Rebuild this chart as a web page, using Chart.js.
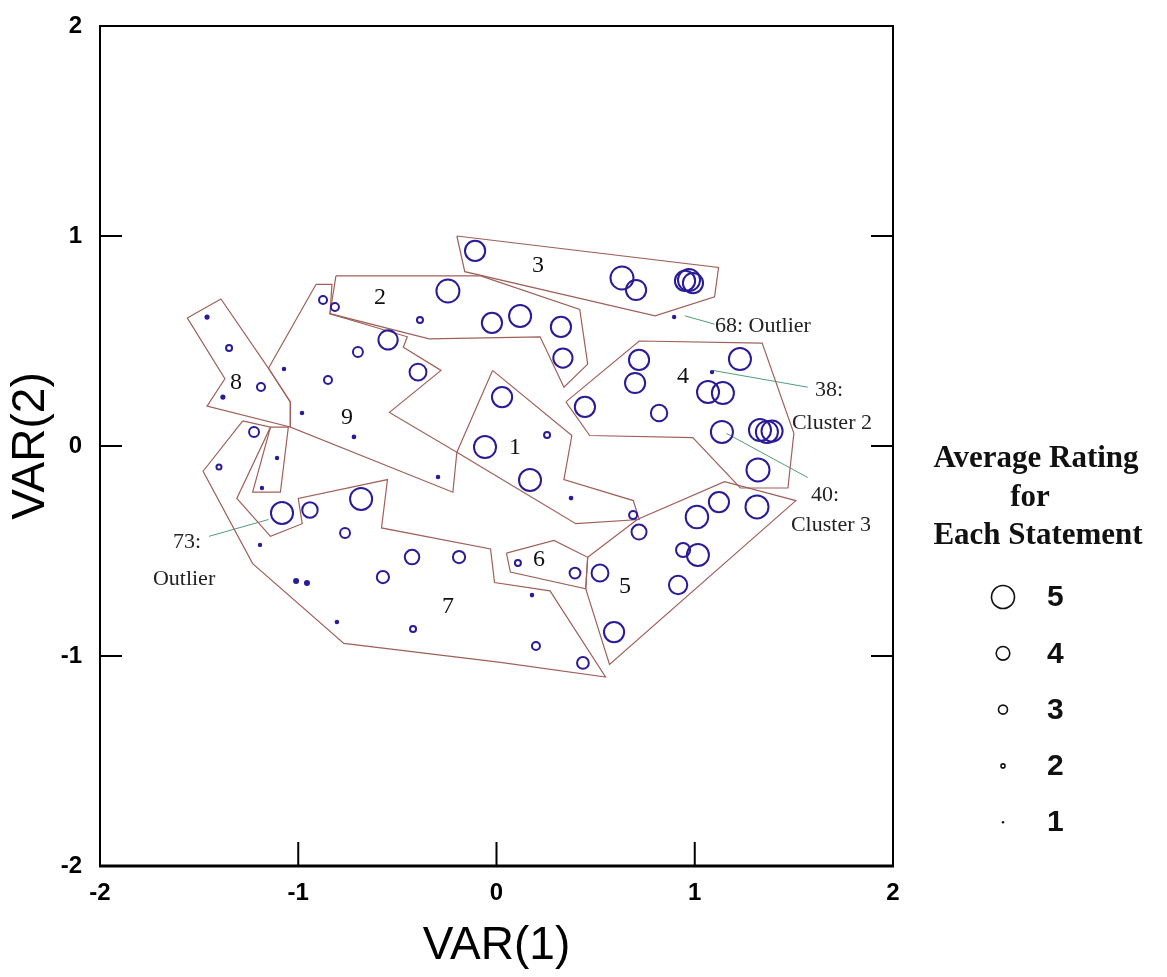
<!DOCTYPE html>
<html>
<head>
<meta charset="utf-8">
<title>Concept map</title>
<script src="https://cdn.jsdelivr.net/npm/chart.js@4.4.0/dist/chart.umd.min.js"></script>
<style>
  html, body { margin: 0; padding: 0; background: #fff; }
</style>
</head>
<body>
<canvas id="map" width="1167" height="977"></canvas>
<script>
// statements: position on VAR(1) / VAR(2) and average rating
const stmtX = [-0.108, 0.633, 0.704, 0.951, 0.971, 0.991, 0.896, -0.245, -0.875, -0.815,
  -0.386, -0.023, 0.119, 0.325, 0.335, -0.547, -0.699, -0.850, -1.072, -0.981,
  -0.719, -0.396, -0.295, -1.460, -1.349, -1.188, -1.380, -1.223, -1.400, -1.107,
  -1.183, -1.082, -0.941, -0.683, -0.764, -0.426, -0.189, -0.573, -1.011, -0.956,
  -0.805, -0.421, -1.193, 0.199, 0.179, 0.436, 0.108, 0.396, 0.522, 0.593,
  0.916, 0.941, 1.016, 1.011, 1.122, 1.314, 0.719, 0.689, 1.319, 0.028,
  -0.058, 0.255, 0.169, 0.376, 0.719, 0.699, 0.446, 0.820, 1.228, 1.067,
  1.142, 1.087, 1.137, 1.329, 1.364, 1.390];
const stmtY = [0.929, 0.800, 0.743, 0.786, 0.790, 0.776, 0.614, 0.738, 0.695, 0.662,
  0.600, 0.586, 0.619, 0.567, 0.419, 0.505, 0.448, 0.314, 0.367, 0.157,
  0.043, 0.352, -0.148, 0.614, 0.467, 0.281, 0.233, 0.067, -0.100, -0.057,
  -0.200, -0.319, -0.305, -0.252, -0.414, -0.529, -0.529, -0.624, -0.643, -0.652,
  -0.838, -0.871, -0.471, -0.952, -0.710, -1.033, -0.557, -0.605, -0.605, -0.886,
  -0.662, -0.495, -0.519, -0.338, -0.267, -0.290, -0.410, -0.329, -0.114, 0.233,
  -0.005, 0.052, -0.162, -0.248, 0.410, 0.300, 0.186, 0.157, 0.414, 0.257,
  0.252, 0.352, 0.067, 0.076, 0.067, 0.071];
const stmtRating = [4.7, 5.0, 4.7, 4.7, 4.9, 4.7, 1.0, 5.0, 2.8, 2.8,
  2.4, 4.7, 4.9, 4.7, 4.6, 4.6, 3.2, 2.8, 1.1, 1.1,
  1.2, 4.35, 1.1, 1.5, 2.4, 2.8, 1.5, 3.2, 2.2, 1.0,
  1.0, 4.9, 4.2, 4.9, 3.2, 4.1, 3.7, 3.7, 2.0, 2.0,
  1.1, 2.4, 1.0, 2.8, 1.1, 3.6, 2.4, 3.4, 4.35, 4.7,
  4.5, 4.05, 4.9, 4.95, 4.7, 5.0, 4.15, 2.8, 5.0, 4.7,
  4.9, 2.4, 4.9, 1.2, 4.7, 4.7, 4.7, 4.3, 4.9, 4.9,
  4.9, 1.0, 4.9, 4.9, 4.9, 4.8];

// cluster boundaries, drawn as closed outlines
const hull1 = [[-0.02, 0.36], [0.38, 0.05], [0.34, -0.16], [0.69, -0.26], [0.72, -0.35], [0.40, -0.37], [-0.20, -0.03]];
const hull2 = [[-0.81, 0.81], [-0.08, 0.81], [0.42, 0.65], [0.46, 0.39], [0.34, 0.28], [0.22, 0.52], [-0.34, 0.51], [-0.84, 0.63]];
const hull3 = [[-0.20, 1.00], [1.12, 0.85], [1.10, 0.71], [0.80, 0.62], [-0.16, 0.83]];
const hull4 = [[0.35, 0.21], [0.72, 0.50], [1.34, 0.49], [1.50, 0.06], [1.47, -0.20], [1.23, -0.20], [0.99, 0.04], [0.47, 0.05]];
const hull5 = [[0.46, -0.53], [0.71, -0.35], [1.15, -0.17], [1.51, -0.26], [0.57, -1.04], [0.45, -0.68]];
const hull6 = [[0.05, -0.51], [0.29, -0.45], [0.46, -0.53], [0.45, -0.68], [0.07, -0.60]];
const hull7 = [[-1.28, 0.12], [-1.14, 0.09], [-1.31, -0.25], [-1.14, -0.43], [-0.98, -0.37], [-1.00, -0.25],
  [-0.55, -0.16], [-0.58, -0.39], [-0.03, -0.49], [-0.01, -0.65], [0.27, -0.69], [0.55, -1.10],
  [0.02, -1.03], [-0.77, -0.94], [-1.23, -0.56], [-1.48, -0.12]];
const hull7b = [[-1.14, 0.09], [-1.23, -0.22], [-1.09, -0.22], [-1.05, 0.09]];
const hull8 = [[-1.56, 0.61], [-1.39, 0.70], [-1.15, 0.37], [-1.04, 0.21], [-1.04, 0.09], [-1.46, 0.19], [-1.37, 0.32]];
const hull9 = [[-0.91, 0.77], [-0.83, 0.77], [-0.84, 0.63], [-0.45, 0.52], [-0.47, 0.47], [-0.28, 0.36],
  [-0.54, 0.16], [-0.20, -0.03], [-0.22, -0.22], [-1.04, 0.09], [-1.04, 0.21], [-1.15, 0.37]];
const hulls = [hull1, hull2, hull3, hull4, hull5, hull6, hull7, hull7b, hull8, hull9];

// cluster numbers
const clusterIds = ['1', '2', '3', '4', '5', '6', '7', '8', '9'];
const clusterLabelX = [0.093, -0.588, 0.209, 0.941, 0.648, 0.214, -0.245, -1.314, -0.754];
const clusterLabelY = [-0.01, 0.705, 0.857, 0.329, -0.671, -0.543, -0.767, 0.300, 0.133];

// notes and their leader lines
const noteText = ['68: Outlier', '38:', 'Cluster 2', '40:', 'Cluster 3', '73:', 'Outlier'];
const noteX = [1.102, 1.677, 1.692, 1.657, 1.687, -1.561, -1.576];
const noteY = [0.571, 0.267, 0.110, -0.233, -0.376, -0.457, -0.633];
const noteAlign = ['left', 'center', 'center', 'center', 'center', 'center', 'center'];
const leaders = [
  [[0.95, 0.62], [1.10, 0.58]],
  [[1.09, 0.36], [1.57, 0.28]],
  [[1.16, 0.06], [1.57, -0.15]],
  [[-1.45, -0.43], [-1.15, -0.35]]
];

// axes and size legend
const axisTicks = [-2, -1, 0, 1, 2];
const legendRatings = [5, 4, 3, 2, 1];
const ratingSteps = [1, 2, 3, 4, 5];
const ratingRadius = [1.2, 2, 4.5, 6.8, 11.5];

function radiusFor(rating) {
  for (let i = 1; i < ratingSteps.length; i++) {
    if (rating <= ratingSteps[i]) {
      const t = (rating - ratingSteps[i - 1]) / (ratingSteps[i] - ratingSteps[i - 1]);
      return ratingRadius[i - 1] + t * (ratingRadius[i] - ratingRadius[i - 1]);
    }
  }
  return ratingRadius[ratingRadius.length - 1];
}

const SANS = '"Liberation Sans", Arial, sans-serif';
const SERIF = '"Liberation Serif", "Times New Roman", serif';
const HULL_COLOR = '#a0605a';
const DOT_COLOR = '#2a1b98';

const points = stmtX.map((x, i) => ({ x, y: stmtY[i], r: radiusFor(stmtRating[i]) }));

const datasets = [{
  type: 'bubble',
  data: points,
  borderColor: DOT_COLOR,
  borderWidth: 2,
  backgroundColor: ctx => (ctx.raw && ctx.raw.r <= 2.05 ? DOT_COLOR : 'rgba(0,0,0,0)')
}];

hulls.forEach(h => {
  datasets.push({
    type: 'line',
    data: h.concat([h[0]]).map(p => ({ x: p[0], y: p[1] })),
    borderColor: HULL_COLOR,
    borderWidth: 1.2,
    pointRadius: 0,
    fill: false,
    tension: 0
  });
});

leaders.forEach(l => {
  datasets.push({
    type: 'line',
    data: l.map(p => ({ x: p[0], y: p[1] })),
    borderColor: '#4f9e78',
    borderWidth: 1,
    pointRadius: 0,
    fill: false
  });
});

// frame with inward ticks on left, right and bottom
const framePlugin = {
  id: 'frame',
  afterDraw(chart) {
    const { ctx, chartArea: a, scales: { x, y } } = chart;
    ctx.save();
    ctx.strokeStyle = '#000';
    ctx.lineWidth = 2;
    ctx.strokeRect(a.left, a.top, a.right - a.left, a.bottom - a.top);
    ctx.lineWidth = 3;
    ctx.beginPath();
    ctx.moveTo(a.left - 1, a.bottom);
    ctx.lineTo(a.right + 1, a.bottom);
    ctx.stroke();
    ctx.lineWidth = 2;
    ctx.beginPath();
    x.ticks.forEach(t => {
      const px = x.getPixelForValue(t.value);
      ctx.moveTo(px, a.bottom);
      ctx.lineTo(px, a.bottom - 24);
    });
    y.ticks.forEach(t => {
      const py = y.getPixelForValue(t.value);
      ctx.moveTo(a.left, py);
      ctx.lineTo(a.left + 22, py);
      ctx.moveTo(a.right, py);
      ctx.lineTo(a.right - 22, py);
    });
    ctx.stroke();
    ctx.restore();
  }
};

// cluster numbers and notes
const notesPlugin = {
  id: 'notes',
  afterDatasetsDraw(chart) {
    const { ctx, scales: { x, y } } = chart;
    ctx.save();
    ctx.textBaseline = 'middle';
    ctx.fillStyle = '#111';
    ctx.font = '24px ' + SERIF;
    ctx.textAlign = 'center';
    clusterIds.forEach((id, i) => {
      ctx.fillText(id, x.getPixelForValue(clusterLabelX[i]), y.getPixelForValue(clusterLabelY[i]));
    });
    ctx.fillStyle = '#222';
    ctx.font = '22px ' + SERIF;
    noteText.forEach((t, i) => {
      ctx.textAlign = noteAlign[i];
      ctx.fillText(t, x.getPixelForValue(noteX[i]), y.getPixelForValue(noteY[i]));
    });
    ctx.restore();
  }
};

// size legend on the right
const legendPlugin = {
  id: 'ratingLegend',
  afterDraw(chart) {
    const { ctx, chartArea: a } = chart;
    const titleX = a.right + 143;
    const dotX = a.right + 110;
    const numX = a.right + 154;
    ctx.save();
    ctx.fillStyle = '#111';
    ctx.textAlign = 'center';
    ctx.textBaseline = 'middle';
    ctx.font = 'bold 31px ' + SERIF;
    ctx.fillText('Average Rating', titleX, a.top + 433);
    ctx.fillText('for', titleX - 6, a.top + 472);
    ctx.fillText('Each Statement', titleX + 2, a.top + 510);
    ctx.font = 'bold 30px ' + SANS;
    ctx.textAlign = 'left';
    ctx.strokeStyle = '#111';
    ctx.lineWidth = 1.6;
    legendRatings.forEach((rating, i) => {
      const cy = a.top + 571 + i * 56.3;
      const r = radiusFor(rating);
      ctx.beginPath();
      ctx.arc(dotX, cy, r, 0, Math.PI * 2);
      if (r <= 1.5) ctx.fill(); else ctx.stroke();
      ctx.fillText(String(rating), numX, cy + 1);
    });
    ctx.restore();
  }
};

new Chart(document.getElementById('map'), {
  type: 'bubble',
  data: { datasets },
  options: {
    responsive: false,
    animation: false,
    events: [],
    layout: { padding: { top: 26, right: 274, bottom: 0, left: 0 } },
    plugins: {
      legend: { display: false },
      tooltip: { enabled: false }
    },
    scales: {
      x: {
        type: 'linear',
        min: axisTicks[0],
        max: axisTicks[axisTicks.length - 1],
        afterBuildTicks: s => { s.ticks = axisTicks.map(v => ({ value: v })); },
        afterFit: s => { s.height = 111; },
        grid: { display: false },
        border: { display: false },
        ticks: {
          color: '#000',
          padding: 5,
          font: { family: SANS, size: 24, weight: 'bold' },
          callback: v => String(v)
        },
        title: {
          display: true,
          text: 'VAR(1)',
          color: '#000',
          font: { family: SANS, size: 46 },
          padding: { top: 0, bottom: 3 }
        }
      },
      y: {
        type: 'linear',
        min: axisTicks[0],
        max: axisTicks[axisTicks.length - 1],
        afterBuildTicks: s => { s.ticks = axisTicks.map(v => ({ value: v })); },
        afterFit: s => { s.width = 100; },
        grid: { display: false },
        border: { display: false },
        ticks: {
          color: '#000',
          padding: 10,
          font: { family: SANS, size: 24, weight: 'bold' },
          callback: v => String(v)
        },
        title: {
          display: true,
          text: 'VAR(2)',
          color: '#000',
          font: { family: SANS, size: 46 },
          padding: { top: 4, bottom: 0 }
        }
      }
    }
  },
  plugins: [framePlugin, notesPlugin, legendPlugin]
});
</script>
</body>
</html>
